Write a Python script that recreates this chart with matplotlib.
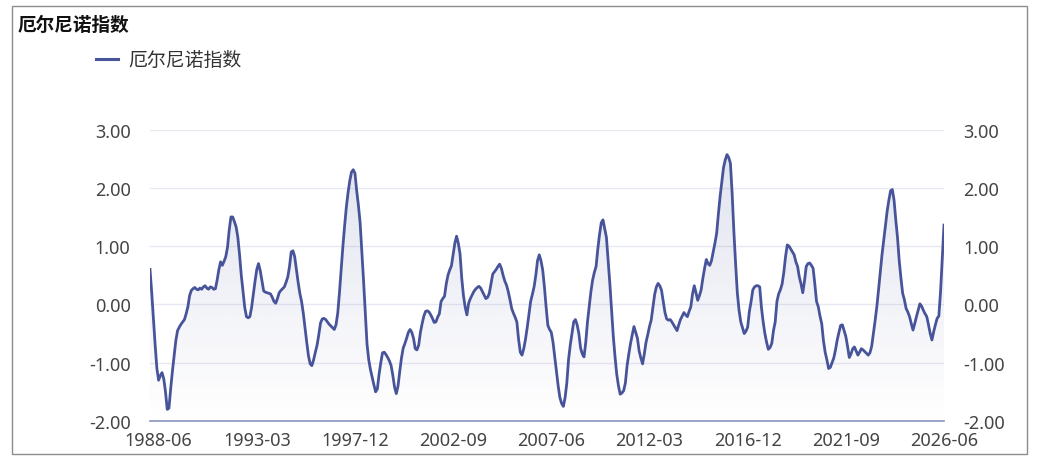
import matplotlib
matplotlib.use("Agg")
import matplotlib.pyplot as plt
import numpy as np
import pandas as pd
from matplotlib.colors import LinearSegmentedColormap
from matplotlib.lines import Line2D
from matplotlib.patches import Rectangle

plt.rcParams['font.family'] = ['Noto Sans CJK SC', 'DejaVu Sans']

title = "厄尔尼诺指数"
series_name = "厄尔尼诺指数"
start_month = "1988-01"

# monthly index values, one row per year
values = [
    0.60, 0.20, -0.25, -0.70, -1.10, -1.30, -1.22, -1.17, -1.28, -1.50, -1.80, -1.78,  # 1988
    -1.45, -1.15, -0.88, -0.62, -0.45, -0.39, -0.34, -0.30, -0.26, -0.16, -0.04, 0.15,  # 1989
    0.24, 0.27, 0.29, 0.26, 0.25, 0.28, 0.26, 0.30, 0.32, 0.28, 0.26, 0.30,  # 1990
    0.29, 0.26, 0.27, 0.42, 0.60, 0.73, 0.67, 0.74, 0.82, 0.98, 1.28, 1.50,  # 1991
    1.50, 1.42, 1.33, 1.15, 0.85, 0.50, 0.22, -0.05, -0.21, -0.23, -0.21, -0.05,  # 1992
    0.18, 0.40, 0.60, 0.70, 0.58, 0.40, 0.23, 0.21, 0.20, 0.19, 0.18, 0.12,  # 1993
    0.05, 0.02, 0.10, 0.20, 0.24, 0.27, 0.30, 0.38, 0.47, 0.65, 0.90, 0.92,  # 1994
    0.82, 0.60, 0.38, 0.19, 0.05, -0.15, -0.40, -0.65, -0.88, -1.02, -1.05, -0.95,  # 1995
    -0.82, -0.70, -0.52, -0.32, -0.25, -0.24, -0.26, -0.30, -0.34, -0.37, -0.40, -0.43,  # 1996
    -0.35, -0.15, 0.20, 0.60, 1.00, 1.35, 1.67, 1.92, 2.12, 2.27, 2.31, 2.25,  # 1997
    1.95, 1.70, 1.40, 0.90, 0.40, -0.15, -0.68, -0.95, -1.12, -1.25, -1.38, -1.50,  # 1998
    -1.45, -1.20, -1.00, -0.83, -0.82, -0.86, -0.91, -0.97, -1.05, -1.22, -1.42, -1.53,  # 1999
    -1.40, -1.15, -0.92, -0.75, -0.67, -0.58, -0.48, -0.43, -0.48, -0.58, -0.76, -0.78,  # 2000
    -0.70, -0.48, -0.33, -0.20, -0.12, -0.11, -0.13, -0.18, -0.24, -0.31, -0.30, -0.22,  # 2001
    -0.16, 0.05, 0.10, 0.14, 0.35, 0.50, 0.59, 0.66, 0.85, 1.05, 1.17, 1.05,  # 2002
    0.87, 0.45, 0.15, -0.05, -0.18, 0.02, 0.10, 0.16, 0.22, 0.26, 0.29, 0.31,  # 2003
    0.28, 0.22, 0.16, 0.10, 0.12, 0.19, 0.35, 0.52, 0.56, 0.60, 0.65, 0.69,  # 2004
    0.62, 0.50, 0.40, 0.33, 0.22, 0.08, -0.07, -0.15, -0.22, -0.30, -0.60, -0.82,  # 2005
    -0.87, -0.76, -0.60, -0.40, -0.18, 0.05, 0.17, 0.30, 0.50, 0.75, 0.85, 0.75,  # 2006
    0.59, 0.30, -0.05, -0.36, -0.43, -0.48, -0.65, -0.90, -1.15, -1.40, -1.60, -1.70,  # 2007
    -1.75, -1.60, -1.35, -0.95, -0.70, -0.50, -0.30, -0.26, -0.35, -0.50, -0.75, -0.85,  # 2008
    -0.90, -0.65, -0.30, -0.04, 0.22, 0.42, 0.55, 0.65, 0.95, 1.20, 1.40, 1.45,  # 2009
    1.30, 1.15, 0.75, 0.35, -0.10, -0.55, -0.90, -1.20, -1.40, -1.54, -1.52, -1.48,  # 2010
    -1.35, -1.05, -0.85, -0.67, -0.52, -0.38, -0.48, -0.58, -0.80, -0.92, -1.02, -0.85,  # 2011
    -0.65, -0.52, -0.38, -0.27, -0.05, 0.17, 0.30, 0.36, 0.32, 0.24, 0.05, -0.14,  # 2012
    -0.25, -0.27, -0.26, -0.30, -0.35, -0.40, -0.45, -0.35, -0.26, -0.20, -0.14, -0.18,  # 2013
    -0.21, -0.12, -0.04, 0.18, 0.32, 0.20, 0.07, 0.15, 0.25, 0.45, 0.62, 0.77,  # 2014
    0.70, 0.67, 0.75, 0.90, 1.05, 1.22, 1.55, 1.85, 2.10, 2.35, 2.48, 2.57,  # 2015
    2.52, 2.42, 1.90, 1.25, 0.70, 0.20, -0.10, -0.30, -0.40, -0.50, -0.46, -0.39,  # 2016
    -0.12, 0.05, 0.25, 0.30, 0.32, 0.32, 0.30, -0.05, -0.30, -0.50, -0.65, -0.77,  # 2017
    -0.74, -0.67, -0.45, -0.30, 0.05, 0.18, 0.25, 0.35, 0.55, 0.82, 1.02, 1.00,  # 2018
    0.95, 0.90, 0.85, 0.73, 0.65, 0.47, 0.35, 0.20, 0.40, 0.65, 0.70, 0.71,  # 2019
    0.67, 0.62, 0.35, 0.05, -0.04, -0.20, -0.33, -0.62, -0.82, -0.95, -1.10, -1.08,  # 2020
    -1.00, -0.92, -0.78, -0.61, -0.48, -0.36, -0.35, -0.45, -0.55, -0.72, -0.91, -0.85,  # 2021
    -0.76, -0.73, -0.80, -0.87, -0.82, -0.76, -0.78, -0.81, -0.84, -0.87, -0.83, -0.72,  # 2022
    -0.50, -0.28, -0.04, 0.25, 0.56, 0.85, 1.10, 1.35, 1.60, 1.79, 1.95, 1.97,  # 2023
    1.79, 1.45, 1.15, 0.75, 0.45, 0.19, 0.08, -0.07, -0.13, -0.21, -0.33, -0.44,  # 2024
    -0.33, -0.21, -0.10, 0.01, -0.03, -0.10, -0.16, -0.21, -0.35, -0.50, -0.61, -0.47,  # 2025
    -0.35, -0.24, -0.20, 0.22, 0.78, 1.36,  # 2026
]

tick_labels = ["1988-06", "1993-03", "1997-12", "2002-09", "2007-06",
               "2012-03", "2016-12", "2021-09", "2026-06"]
y_ticks = [-2, -1, 0, 1, 2, 3]

months = [str(p) for p in pd.period_range(start_month, periods=len(values), freq="M")]
x = np.arange(len(values))
y = np.array(values)

line_color = "#47549a"
label_color = "#444444"
tick_font = ["Noto Sans", "DejaVu Sans"]

W, H = 1041, 464
fig = plt.figure(figsize=(W / 100, H / 100), dpi=100)
fig.patch.set_facecolor("white")

# plot area in pixels: x 150..944, y 130.5..422
ax = fig.add_axes([150 / W, (H - 422) / H, 794 / W, 291.5 / H])

# gradient area under the curve
fill = ax.fill_between(x, y, -2, color="none", lw=0)
cmap = LinearSegmentedColormap.from_list(
    "area", [(0.278, 0.33, 0.60, 0.0), (0.278, 0.33, 0.60, 0.16)])
grad = np.linspace(0, 1, 256).reshape(-1, 1)
im = ax.imshow(grad, extent=[x[0], x[-1], -2, y.max()], origin="lower",
               aspect="auto", cmap=cmap, zorder=1)
im.set_clip_path(fill.get_paths()[0], transform=ax.transData)

ax.plot(x, y, color=line_color, lw=2.0, zorder=3, solid_joinstyle="round")

ax.set_xlim(x[0], x[-1])
ax.set_ylim(-2, 3)
ax.set_yticks(y_ticks)
ax.set_yticklabels([f"{t:.2f}" for t in y_ticks])
ax.set_xticks([months.index(m) for m in tick_labels])
ax.set_xticklabels(tick_labels)

ax.yaxis.grid(True, color="#e6e8f2", lw=1)
ax.set_axisbelow(True)
for side in ["top", "left", "right"]:
    ax.spines[side].set_visible(False)
ax.spines["bottom"].set_color("#8a93bd")
ax.spines["bottom"].set_linewidth(1.2)
ax.spines["bottom"].set_zorder(4)

ax.tick_params(axis="y", left=False, right=False, labelleft=True, labelright=True,
               labelsize=13, labelcolor=label_color, pad=10.5)
ax.tick_params(axis="x", length=0, labelsize=13, labelcolor=label_color, pad=7.5)
for t in ax.xaxis.get_major_ticks():
    t.label1.set_family(tick_font)
for t in ax.yaxis.get_major_ticks():
    t.label1.set_family(tick_font)
    t.label2.set_family(tick_font)

# title and legend
fig.text(18 / W, 1 - 25 / H, title, fontsize=13.4, fontweight="bold",
         ha="left", va="center", color="#111111")
fig.add_artist(Line2D([96 / W, 118 / W], [1 - 60 / H, 1 - 60 / H],
                      color=line_color, lw=2.2, transform=fig.transFigure))
fig.text(128 / W, 1 - 60 / H, series_name, fontsize=13.6, ha="left",
         va="center", color="#333333")

# outer frame
fig.add_artist(Rectangle((11.5 / W, (H - 454.5) / H), 1015 / W, 447.5 / H,
                         transform=fig.transFigure, fill=False,
                         edgecolor="#8c8c8c", lw=1))

fig.savefig("out.png", dpi=100)
